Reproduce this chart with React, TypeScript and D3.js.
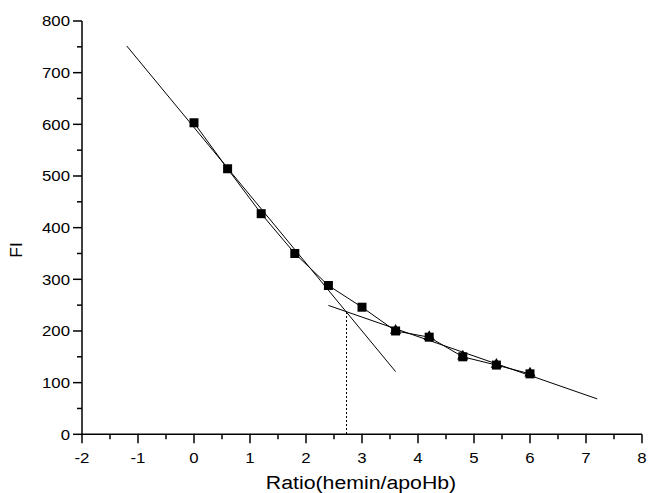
import React from 'react'
import * as d3 from 'd3'

// measured points (squares), ratio vs FI
const ratio = [0, 0.6, 1.2, 1.8, 2.4, 3.0, 3.6, 4.2, 4.8, 5.4, 6.0]
const fi = [603, 514, 427, 350, 288, 246, 200, 188, 150, 134, 117]
// second series (triangles), high-ratio points
const ratioB = [3.6, 4.2, 4.8, 5.4, 6.0]
const fiB = [201, 189, 151, 135, 118]
// linear fits: [x0, x1], intercept, slope
const fit1 = { range: [-1.2, 3.6], b: 594, m: -131.3 }
const fit2 = { range: [2.4, 7.2], b: 340, m: -37.7 }
const xTicks = [-2, -1, 0, 1, 2, 3, 4, 5, 6, 7, 8]
const yTicks = [0, 100, 200, 300, 400, 500, 600, 700, 800]

export default function App() {
  const W = 648, H = 493
  const x = d3.scaleLinear().domain([-2, 8]).range([82, 642])
  const y = d3.scaleLinear().domain([0, 800]).range([434.3, 21])
  const font = 'Arial, "Liberation Sans", sans-serif'

  const line = d3.line<[number, number]>().x(d => x(d[0])).y(d => y(d[1]))
  const pts: [number, number][] = ratio.map((r, i) => [r, fi[i]])
  const fitPts = (f: typeof fit1): [number, number][] =>
    f.range.map(v => [v, f.b + f.m * v] as [number, number])

  // intersection of the two fits
  const xi = (fit2.b - fit1.b) / (fit1.m - fit2.m)
  const yi = fit1.b + fit1.m * xi
  const xd = Math.round(x(xi)) + 0.5

  const xMinor = d3.range(-1.5, 8, 1)
  const yMinor = d3.range(50, 800, 100)
  const tri = d3.symbol().type(d3.symbolTriangle).size(55)

  return (
    <svg width={W} height={H} style={{ position: 'absolute', left: 0, top: 0 }}>
      <rect width={W} height={H} fill="#fff" />
      {/* fit lines */}
      <path d={line(fitPts(fit1)) || ''} fill="none" stroke="#000" strokeWidth={1} />
      <path d={line(fitPts(fit2)) || ''} fill="none" stroke="#000" strokeWidth={1} />
      <line x1={xd} x2={xd} y1={Math.round(y(yi))} y2={y(0)} stroke="#000" strokeWidth={1} strokeDasharray="2,2" shapeRendering="crispEdges" />
      {/* data line */}
      <path d={line(pts) || ''} fill="none" stroke="#000" strokeWidth={1} />
      {pts.map((d, i) => (
        <rect key={i} x={x(d[0]) - 4.5} y={y(d[1]) - 4.5} width={9} height={9} fill="#000" />
      ))}
      {ratioB.map((r, i) => (
        <path key={'t' + i} d={tri() || ''} transform={`translate(${x(r)},${y(fiB[i])})`} fill="#000" />
      ))}

      {/* y axis */}
      <line x1={x(-2)} x2={x(-2)} y1={y(0)} y2={y(800)} stroke="#000" strokeWidth={1.5} />
      {yTicks.map(t => (
        <g key={t}>
          <line x1={x(-2) - 9} x2={x(-2)} y1={y(t)} y2={y(t)} stroke="#000" strokeWidth={1.5} />
          <text transform={`translate(${x(-2) - 12},${y(t) + 5.4}) scale(1.12,1)`} textAnchor="end" fontFamily={font} fontSize={15}>{t}</text>
        </g>
      ))}
      {yMinor.map(t => (
        <line key={t} x1={x(-2) - 5} x2={x(-2)} y1={y(t)} y2={y(t)} stroke="#000" strokeWidth={1.5} />
      ))}

      {/* x axis */}
      <line x1={x(-2)} x2={x(8)} y1={y(0)} y2={y(0)} stroke="#000" strokeWidth={1.5} />
      {xTicks.map(t => (
        <g key={t}>
          <line x1={x(t)} x2={x(t)} y1={y(0)} y2={y(0) + 9} stroke="#000" strokeWidth={1.5} />
          <text transform={`translate(${x(t)},462.5) scale(1.12,1)`} textAnchor="middle" fontFamily={font} fontSize={15}>{t}</text>
        </g>
      ))}
      {xMinor.map(t => (
        <line key={t} x1={x(t)} x2={x(t)} y1={y(0)} y2={y(0) + 5} stroke="#000" strokeWidth={1.5} />
      ))}

      <text transform="translate(361,489) scale(1.12,1)" textAnchor="middle" fontFamily={font} fontSize={19}>Ratio(hemin/apoHb)</text>
      <text transform="translate(22,250) rotate(-90) scale(1.1,1)" textAnchor="middle" fontFamily={font} fontSize={16}>FI</text>
    </svg>
  )
}
